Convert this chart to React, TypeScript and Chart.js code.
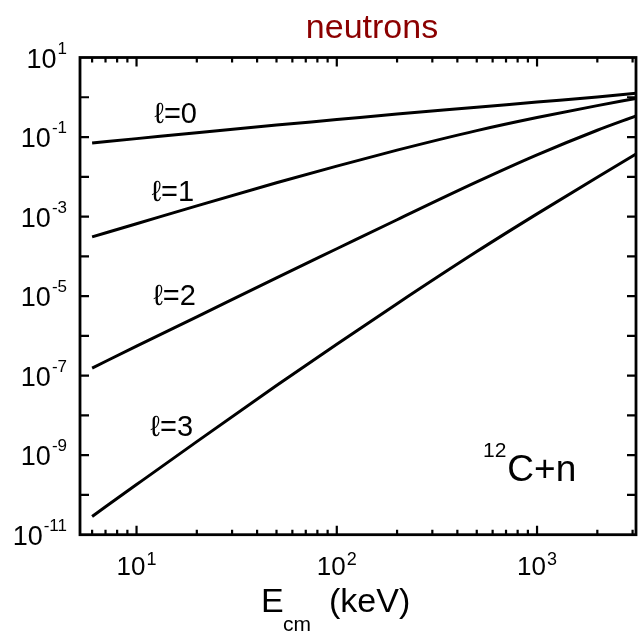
import React, { useEffect, useRef } from "react";
import { Chart, registerables } from "chart.js";

Chart.register(...registerables);

// Energies (keV, centre of mass)
const energies = [6, 10, 20, 50, 100, 200, 500, 1000, 2000, 3120];
// Penetrability-like values for each orbital angular momentum
const ell0 = [0.0708, 0.0912, 0.129, 0.2, 0.275, 0.38, 0.562, 0.759, 1.02, 1.26];
const ell1 = [3.09e-4, 6.61e-4, 1.86e-3, 7.08e-3, 1.86e-2, 4.68e-2, 0.145, 0.309, 0.617, 0.933];
const ell2 = [1.55e-7, 5.5e-7, 3.02e-6, 2.88e-5, 1.55e-4, 8.32e-4, 7.41e-3, 3.55e-2, 0.148, 0.339];
const ell3 = [2.88e-11, 1.82e-10, 2.19e-9, 5.62e-8, 6.17e-7, 6.46e-6, 1.32e-4, 1.17e-3, 9.77e-3, 3.72e-2];

const seriesNames = ["ℓ=0", "ℓ=1", "ℓ=2", "ℓ=3"];
// label anchors in data units (energy, value)
const labelE = [15.7, 15.2, 15.5, 15.0];
const labelV = [0.35, 3.9e-3, 9.5e-6, 4.7e-9];

const xMin = 5.22;
const xMax = 3120;
const yMin = 1e-11;
const yMax = 10;

const yTickExps = [1, 0, -1, -2, -3, -4, -5, -6, -7, -8, -9, -10, -11];
const yLabelExps = [1, -1, -3, -5, -7, -9, -11];
const xMajor = [10, 100, 1000];
const xMajorExps = ["1", "2", "3"];
const xMinor = [6, 7, 8, 9, 20, 30, 40, 50, 60, 70, 80, 90, 200, 300, 400, 500, 600, 700, 800, 900, 2000, 3000];

const titleText = "neutrons";
const reactionSup = "12";
const reactionText = "C+n";
const reactionE = 537;
const reactionV = 2.2e-10;

const FONT = "'Liberation Sans', Arial, Helvetica, sans-serif";

export default function App() {
  const ref = useRef<HTMLCanvasElement | null>(null);

  useEffect(() => {
    document.body.style.margin = "0";
    const canvas = ref.current;
    if (!canvas) return;

    const mk = (vals: number[]) => energies.map((e, i) => ({ x: e, y: vals[i] }));

    const decor = {
      id: "decor",
      afterDraw(chart: any) {
        const ctx: CanvasRenderingContext2D = chart.ctx;
        const ca = chart.chartArea;
        const xs = chart.scales.x;
        const ys = chart.scales.y;
        ctx.save();
        ctx.strokeStyle = "#000";
        ctx.fillStyle = "#000";
        // frame
        ctx.lineWidth = 2.8;
        ctx.strokeRect(ca.left, ca.top, ca.right - ca.left, ca.bottom - ca.top);
        // y ticks
        ctx.lineWidth = 2.2;
        ctx.beginPath();
        for (const e of yTickExps) {
          const py = ys.getPixelForValue(Math.pow(10, e));
          if (py <= ca.top + 1 || py >= ca.bottom - 1) continue;
          ctx.moveTo(ca.left, py);
          ctx.lineTo(ca.left + 9, py);
          ctx.moveTo(ca.right, py);
          ctx.lineTo(ca.right - 9, py);
        }
        // x ticks
        for (const v of xMajor) {
          const px = xs.getPixelForValue(v);
          ctx.moveTo(px, ca.bottom);
          ctx.lineTo(px, ca.bottom - 9);
          ctx.moveTo(px, ca.top);
          ctx.lineTo(px, ca.top + 9);
        }
        for (const v of xMinor) {
          const px = xs.getPixelForValue(v);
          ctx.moveTo(px, ca.bottom);
          ctx.lineTo(px, ca.bottom - 5);
          ctx.moveTo(px, ca.top);
          ctx.lineTo(px, ca.top + 5);
        }
        ctx.stroke();

        ctx.textBaseline = "alphabetic";
        // y labels
        for (const e of yLabelExps) {
          const py = ys.getPixelForValue(Math.pow(10, e));
          const sup = String(e);
          ctx.font = `17px ${FONT}`;
          const ws = ctx.measureText(sup).width;
          ctx.font = `27px ${FONT}`;
          const wb = ctx.measureText("10").width;
          const right = ca.left - 13;
          ctx.textAlign = "left";
          ctx.fillText("10", right - ws - wb - 1, py + 10);
          ctx.font = `17px ${FONT}`;
          ctx.fillText(sup, right - ws, py - 4);
        }
        // x labels
        xMajor.forEach((v, i) => {
          const px = xs.getPixelForValue(v);
          const sup = xMajorExps[i];
          ctx.font = `18px ${FONT}`;
          const ws = ctx.measureText(sup).width;
          ctx.font = `26px ${FONT}`;
          const wb = ctx.measureText("10").width;
          const start = px - (wb + ws + 1) / 2;
          ctx.textAlign = "left";
          ctx.fillText("10", start, ca.bottom + 40);
          ctx.font = `18px ${FONT}`;
          ctx.fillText(sup, start + wb + 1, ca.bottom + 30);
        });
        // x axis title
        const cx = (ca.left + ca.right) / 2;
        ctx.textAlign = "left";
        ctx.font = `34px ${FONT}`;
        ctx.fillText("E", cx - 97, ca.bottom + 77);
        ctx.font = `21px ${FONT}`;
        ctx.fillText("cm", cx - 75, ca.bottom + 96);
        ctx.font = `34px ${FONT}`;
        ctx.fillText("(keV)", cx - 29, ca.bottom + 77);

        // title
        ctx.fillStyle = "#8b0000";
        ctx.textAlign = "center";
        ctx.font = `34px ${FONT}`;
        ctx.fillText(titleText, 372, 38);

        // series labels
        ctx.fillStyle = "#000";
        ctx.textAlign = "center";
        ctx.textBaseline = "middle";
        ctx.font = `29px ${FONT}`;
        seriesNames.forEach((n, i) => {
          ctx.fillText(n, xs.getPixelForValue(labelE[i]), ys.getPixelForValue(labelV[i]));
        });

        // reaction label
        ctx.textBaseline = "alphabetic";
        ctx.textAlign = "left";
        const rx = xs.getPixelForValue(reactionE);
        const ry = ys.getPixelForValue(reactionV);
        ctx.font = `21px ${FONT}`;
        const w12 = ctx.measureText(reactionSup).width;
        ctx.fillText(reactionSup, rx, ry - 24);
        ctx.font = `37px ${FONT}`;
        ctx.fillText(reactionText, rx + w12 + 1, ry);
        ctx.restore();
      },
    };

    const chart = new Chart(canvas, {
      type: "line",
      data: {
        datasets: [ell0, ell1, ell2, ell3].map((vals, i) => ({
          label: seriesNames[i],
          data: mk(vals),
          borderColor: "#000",
          borderWidth: 3,
          pointRadius: 0,
          fill: false,
          cubicInterpolationMode: "monotone" as const,
        })),
      },
      options: {
        responsive: false,
        animation: false,
        devicePixelRatio: 1,
        layout: { padding: { left: 80, right: 3, top: 57.5, bottom: 100.3 } },
        plugins: {
          legend: { display: false },
          title: { display: false },
          tooltip: { enabled: false },
        },
        scales: {
          x: { type: "logarithmic", min: xMin, max: xMax, display: false },
          y: { type: "logarithmic", min: yMin, max: yMax, display: false },
        },
      },
      plugins: [decor],
    });
    return () => chart.destroy();
  }, []);

  return (
    <div style={{ position: "absolute", left: 0, top: 0, width: 639, height: 635, background: "#fff" }}>
      <canvas ref={ref} width={639} height={635} style={{ width: 639, height: 635, display: "block" }} />
    </div>
  );
}
